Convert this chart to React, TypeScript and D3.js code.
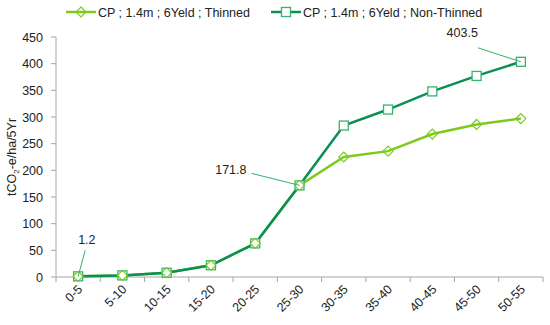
import React from 'react';
import * as d3 from 'd3';

const categories = ['0-5', '5-10', '10-15', '15-20', '20-25', '25-30', '30-35', '35-40', '40-45', '45-50', '50-55'];
const thinned = [1.2, 3, 8, 22, 63, 171.8, 225, 236, 268, 286, 297];
const nonThinned = [1.2, 3, 8, 22, 63, 171.8, 284, 314, 348, 377, 403.5];
const yTicks = [0, 50, 100, 150, 200, 250, 300, 350, 400, 450];
const seriesNames = ['CP ; 1.4m ; 6Yeld ; Thinned', 'CP ; 1.4m ; 6Yeld ; Non-Thinned'];

// data labels: category index, value, label offset
const callouts = [
  { i: 0, v: 1.2, text: '1.2', dx: 7, dy: -26, tx: 0, ty: -32 },
  { i: 5, v: 171.8, text: '171.8', dx: -48, dy: -12, tx: -53, ty: -11 },
  { i: 10, v: 403.5, text: '403.5', dx: -43, dy: -14, tx: -43, ty: -25 },
];

const W = 550;
const H = 325;
const FONT = '"Liberation Sans", Arial, sans-serif';
const LIME = '#7ccb1c';
const DARK = '#0c8f57';
const SQ = '#36b26f';
const AXIS = '#a6a6a6';

const App = () => {
  const x = d3.scaleBand().domain(categories).range([56, 543]);
  const y = d3.scaleLinear().domain([0, 450]).range([277, 37]);
  const cx = (i: number) => (x(categories[i]) as number) + x.bandwidth() / 2;

  const line = d3
    .line<number>()
    .x((d, i) => cx(i))
    .y((d) => y(d));

  const square = (px: number, py: number, key: string) => (
    <rect key={key} x={px - 4.5} y={py - 4.5} width={9} height={9} fill="white" stroke={SQ} strokeWidth={1.3} />
  );
  const diamond = (px: number, py: number, key: string) => (
    <path
      key={key}
      d={`M${px},${py - 5}L${px + 5},${py}L${px},${py + 5}L${px - 5},${py}Z`}
      fill="none"
      stroke={LIME}
      strokeWidth={1.2}
    />
  );

  return (
    <svg width={W} height={H} style={{ position: 'absolute', left: 0, top: 0 }} fontFamily={FONT}>
      {/* legend */}
      <g fontSize={12.5} fill="#222">
        <line x1={66} x2={96} y1={12} y2={12} stroke={LIME} strokeWidth={2.5} />
        {diamond(81, 12, 'lg1')}
        <text x={98} y={16.5}>{seriesNames[0]}</text>
        <line x1={271} x2={301} y1={12} y2={12} stroke={DARK} strokeWidth={2.5} />
        {square(286, 12, 'lg2')}
        <text x={303} y={16.5}>{seriesNames[1]}</text>
      </g>

      {/* y axis */}
      <line x1={56} x2={56} y1={37} y2={277} stroke={AXIS} />
      {yTicks.map((t) => (
        <g key={t}>
          <line x1={51} x2={56} y1={y(t)} y2={y(t)} stroke={AXIS} />
          <text x={43} y={y(t) + 4.5} textAnchor="end" fontSize={12.5} fill="#222">
            {t}
          </text>
        </g>
      ))}
      <text transform="translate(16,157) rotate(-90)" textAnchor="middle" fontSize={12.5} fill="#222">
        tCO<tspan fontSize={8} dy={3}>2</tspan>
        <tspan dy={-3}>-e/ha/5Yr</tspan>
      </text>

      {/* x axis */}
      <line x1={56} x2={543} y1={277} y2={277} stroke={AXIS} />
      {categories.map((c) => (
        <line key={'t' + c} x1={x(c) as number} x2={x(c) as number} y1={277} y2={282} stroke={AXIS} />
      ))}
      <line x1={543} x2={543} y1={277} y2={282} stroke={AXIS} />
      {categories.map((c, i) => (
        <text
          key={c}
          transform={`translate(${cx(i) + 5},${290}) rotate(-45)`}
          textAnchor="end"
          fontSize={12.5}
          fill="#222"
        >
          {c}
        </text>
      ))}

      {/* series */}
      <path d={line(thinned) as string} fill="none" stroke={LIME} strokeWidth={2.5} />
      <path d={line(nonThinned) as string} fill="none" stroke={DARK} strokeWidth={2.5} />
      {nonThinned.map((v, i) => square(cx(i), y(v), 'sq' + i))}
      {thinned.map((v, i) => diamond(cx(i), y(v), 'dm' + i))}

      {/* callouts */}
      {callouts.map((c) => {
        const px = cx(c.i);
        const py = y(c.v);
        return (
          <g key={c.text}>
            <line x1={px} y1={py} x2={px + c.dx} y2={py + c.dy} stroke="#2db36b" strokeWidth={1} />
            <text x={px + c.tx} y={py + c.ty} fontSize={12.5} fill="#222" textAnchor={c.tx < 0 ? 'end' : 'start'}>
              {c.text}
            </text>
          </g>
        );
      })}
    </svg>
  );
};

export default App;
